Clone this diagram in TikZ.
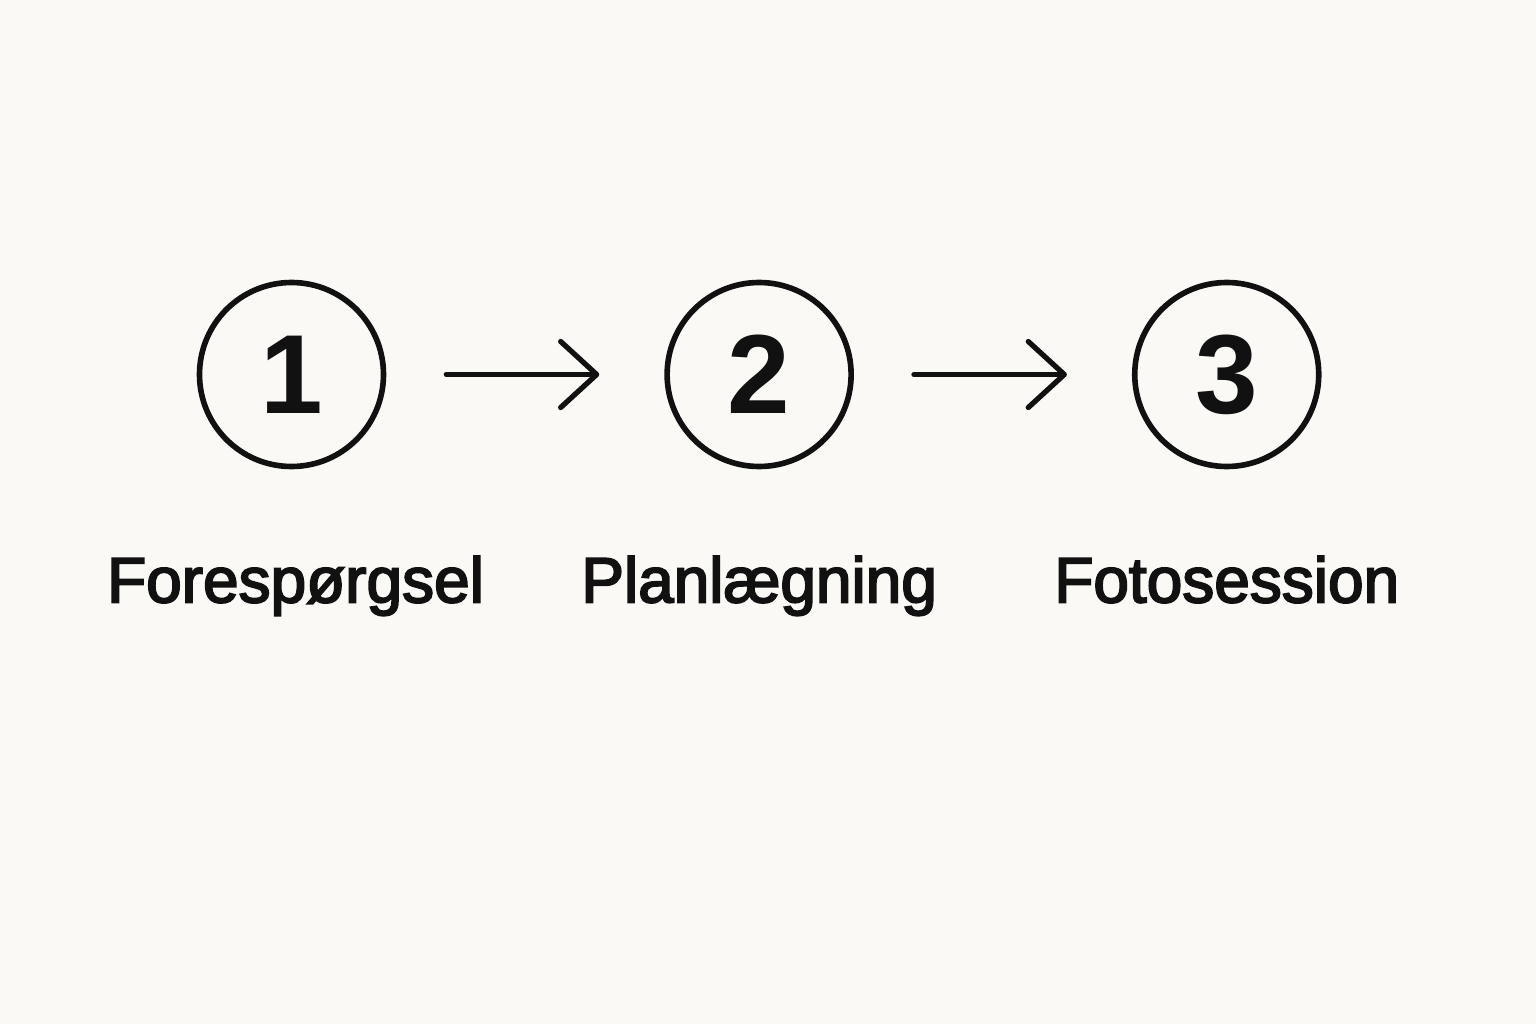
\documentclass[tikz,border=0pt]{standalone}
\usepackage{fontspec}
\usepackage{xcolor}
\usepackage{tikz}
\setmainfont{Liberation Sans}
\newfontfamily\labelfont[FakeBold=3]{Liberation Sans}
\definecolor{paper}{RGB}{250, 249, 245}
\definecolor{ink}{RGB}{17, 17, 17}
\usetikzlibrary{arrows.meta, positioning, calc, backgrounds}

\begin{document}
\begin{tikzpicture}[
    node distance=2.78cm,
    stage/.style={circle, draw=ink, line width=1.6pt, minimum size=1.84cm, inner sep=0pt, text=ink, font=\fontsize{32}{36}\selectfont\bfseries},
    caption/.style={inner sep=0pt, text=ink, font=\fontsize{18.2}{22}\selectfont\labelfont},
    arrow/.style={-{Straight Barb[length=0.36cm, width=0.66cm, line cap=round, line join=round]}, ink, line width=1.5pt, line cap=round, shorten <=0.6cm, shorten >=0.65cm}
]
    \fill[paper] (0,0) rectangle (15.36,10.24);
    \useasboundingbox (0,0) rectangle (15.36,10.24);

    \node[stage] (request) at (2.915,6.495) {1};
    \node[stage, right=of request] (planning) {2};
    \node[stage, right=of planning] (shoot) {3};

    \draw[arrow] (request) -- (planning);
    \draw[arrow] (planning) -- (shoot);

    \node[caption, below=0.86cm of request, xshift=0.04cm] (requestlabel) {Forespørgsel};
    \node[caption, below=0.86cm of planning] (planninglabel) {Planlægning};
    \node[caption, below=0.86cm of shoot] (shootlabel) {Fotosession};
\end{tikzpicture}
\end{document}
